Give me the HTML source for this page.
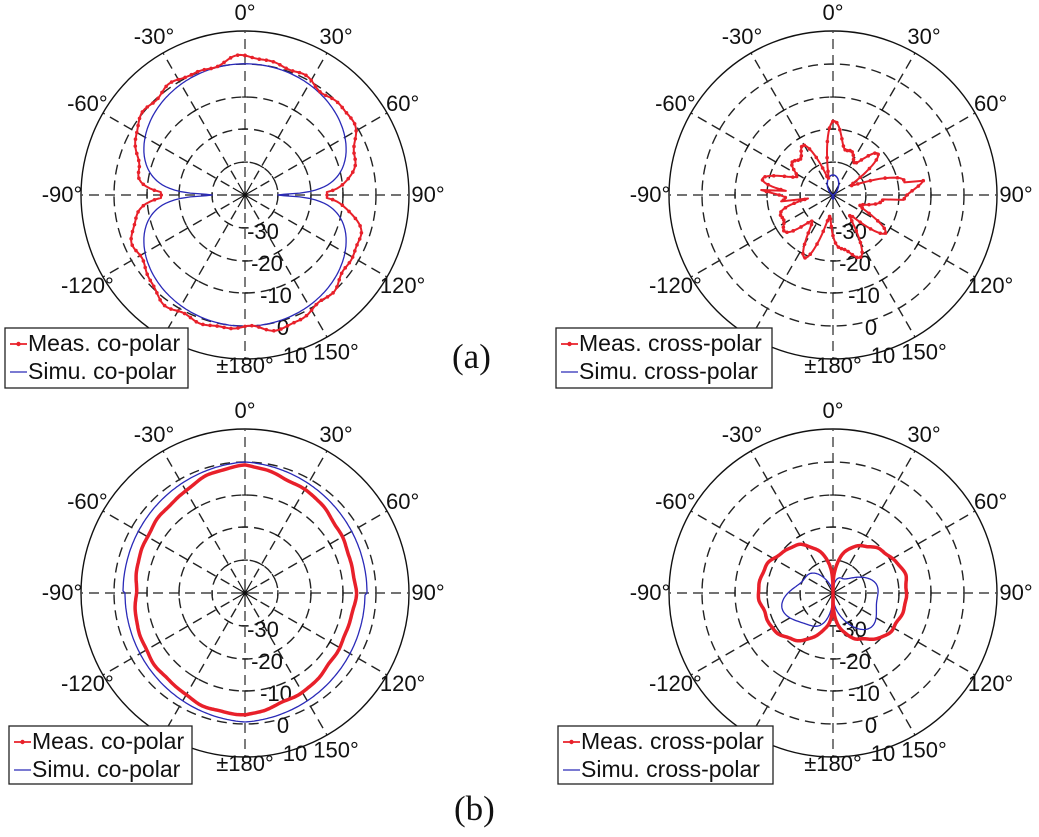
<!DOCTYPE html>
<html><head><meta charset="utf-8">
<style>
html,body{margin:0;padding:0;background:#fff;}
svg{display:block;}
text{font-family:"Liberation Sans",Arial,sans-serif;font-size:22px;fill:#111;}
.lg{font-size:23px;}
.ser{font-family:"Liberation Serif","Times New Roman",serif;font-size:35px;}
</style></head>
<body>
<svg id="s" width="1039" height="837" viewBox="0 0 1039 837" xmlns="http://www.w3.org/2000/svg">
<rect width="1039" height="837" fill="#fff"/>
<g id="g"></g>
<text class="ser" x="452" y="368">(a)</text>
<text class="ser" x="454" y="820">(b)</text>
</svg>
<script>
var NS="http://www.w3.org/2000/svg",G=document.getElementById('g');
function el(t,a,p){var e=document.createElementNS(NS,t);for(var k in a)e.setAttribute(k,a[k]);(p||G).appendChild(e);return e;}
function tx(x,y,s,anchor,cls){var e=el('text',{x:x,y:y,'text-anchor':anchor||'middle','dominant-baseline':'middle'});if(cls)e.setAttribute('class',cls);e.textContent=s;return e;}
var D=Math.PI/180;
function P(cx,cy,r,t){return [cx+r*Math.sin(t*D),cy-r*Math.cos(t*D)];}
function grid(cx,cy){
  var R=164,rings=[33,66,98,131];
  rings.forEach(function(r){el('circle',{cx:cx,cy:cy,r:r,fill:'none',stroke:'#222','stroke-width':1.4,'stroke-dasharray':'10,6'});});
  el('circle',{cx:cx,cy:cy,r:R,fill:'none',stroke:'#111','stroke-width':1.4});
  for(var a=0;a<360;a+=30){
    var p1=P(cx,cy,18,a),p2=P(cx,cy,R,a);
    el('line',{x1:p1[0],y1:p1[1],x2:p2[0],y2:p2[1],stroke:(a%90==0?'#444':'#222'),'stroke-width':1.4,'stroke-dasharray':'10,6'});
    var q=P(cx,cy,14,a);
    el('line',{x1:cx,y1:cy,x2:q[0],y2:q[1],stroke:'#111','stroke-width':1.2});
    rings.slice(0,3).forEach(function(r){
      var d1=P(cx,cy,r,a-5*33/r),d2=P(cx,cy,r,a+5*33/r);
      el('line',{x1:d1[0],y1:d1[1],x2:d2[0],y2:d2[1],stroke:'#111','stroke-width':1.2});
    });
  }
  var labs={0:'0°',30:'30°',60:'60°',90:'90°',120:'120°',150:'150°','-30':'-30°','-60':'-60°','-90':'-90°','-120':'-120°'};
  for(var k in labs){var a=+k,p=P(cx,cy,(Math.abs(a)==90?183:182),a);tx(p[0],p[1]+1,labs[k]);}
  tx(cx,cy+172,'±180°');
  var db=[['-30',18,38],['-20',22,70],['-10',31,102],['0',38,134],['10',50,162]];
  db.forEach(function(d){tx(cx+d[1],cy+d[2],d[0]);});
}
function curve(cx,cy,f,col,w,dots){
  var pts=[];for(var t=0;t<=360;t+=1){var r=f(t);if(r<0)r=0;pts.push(P(cx,cy,r,t));}
  el('path',{d:'M'+pts.map(function(p){return p[0].toFixed(1)+','+p[1].toFixed(1);}).join('L')+'Z',fill:'none',stroke:col,'stroke-width':w,'stroke-linejoin':'round'});
  if(dots){for(var i=0;i<pts.length;i+=3)el('circle',{cx:pts[i][0],cy:pts[i][1],r:1.8,fill:col});}
}
function dbr(db){return Math.max(0,(db+40)*3.28);}
function noise(t,seed){return Math.sin(t*D*7+seed)*0.5+Math.sin(t*D*13+seed*2)*0.35+Math.sin(t*D*23+seed*3)*0.25;}
var RED='#e8202a',BLUE='#2a2ab8';
var C=[[245,195],[833,195],[245,593],[833,593]];
C.forEach(function(c){grid(c[0],c[1]);});
// (a) co-polar
curve(245,195,function(t){var c=Math.abs(Math.cos(t*D));return dbr(Math.max(20*Math.log10(Math.max(Math.pow(c,0.8),0.001)),-30));},BLUE,1.3);
curve(245,195,function(t){var c=Math.abs(Math.cos(t*D));var base=20*Math.log10(Math.max(Math.pow(c,0.55),0.01));base=Math.max(base,-16);return dbr(base+1.3+1.6*noise(t,1));},RED,2,true);
// (a) cross
curve(833,195,function(t){var c=Math.cos(t*D);return c>0?20*Math.pow(c,4):4*Math.pow(-c,6);},BLUE,1.5);
curve(833,195,function(t){return 48+15*Math.sin(t*D*9+1)+10*Math.sin(t*D*14+2)+8*Math.sin(t*D*5+0.5)+(t>80&&t<95?20:0)+(t>262&&t<275?30:0);},RED,2,true);
// (b) co-polar
curve(245,593,function(t){var s=Math.abs(Math.sin(t*D));return 131-9*s+(Math.cos(t*D)<0?-2:0);},BLUE,1.3);
curve(245,593,function(t){var s=Math.sin(t*D),c=Math.cos(t*D);return 128-18*Math.abs(s)-6*(c<0?-c:0)+5*(s<0&&c<0?s*c*2:0)+1.5*noise(t,3);},RED,3.5);
// (b) cross
curve(833,593,function(t){var s=Math.abs(Math.sin(t*D)),c=Math.cos(t*D);return Math.pow(s,0.7)*(45-20*c)+4*Math.sin(t*D*6);},BLUE,1.3);
curve(833,593,function(t){var s=Math.abs(Math.sin(t*D));return 74*Math.pow(s,0.45)+2*noise(t,5);},RED,3.5);
// legends
function legend(x,y,w,h,a,b){
  el('rect',{x:x,y:y,width:w,height:h,fill:'#fff',stroke:'#222','stroke-width':1.3});
  el('line',{x1:x+5,y1:y+16,x2:x+22,y2:y+16,stroke:RED,'stroke-width':1.8});
  el('circle',{cx:x+13.5,cy:y+16,r:2.2,fill:RED});
  el('line',{x1:x+5,y1:y+44,x2:x+22,y2:y+44,stroke:BLUE,'stroke-width':1.3});
  tx(x+23,y+17,a,'start','lg');tx(x+23,y+45,b,'start','lg');
}
legend(5,328,183,60,'Meas. co-polar','Simu. co-polar');
legend(556,328,216,60,'Meas. cross-polar','Simu. cross-polar');
legend(9,726,183,58,'Meas. co-polar','Simu. co-polar');
legend(558,726,215,58,'Meas. cross-polar','Simu. cross-polar');
</script>
</body></html>
